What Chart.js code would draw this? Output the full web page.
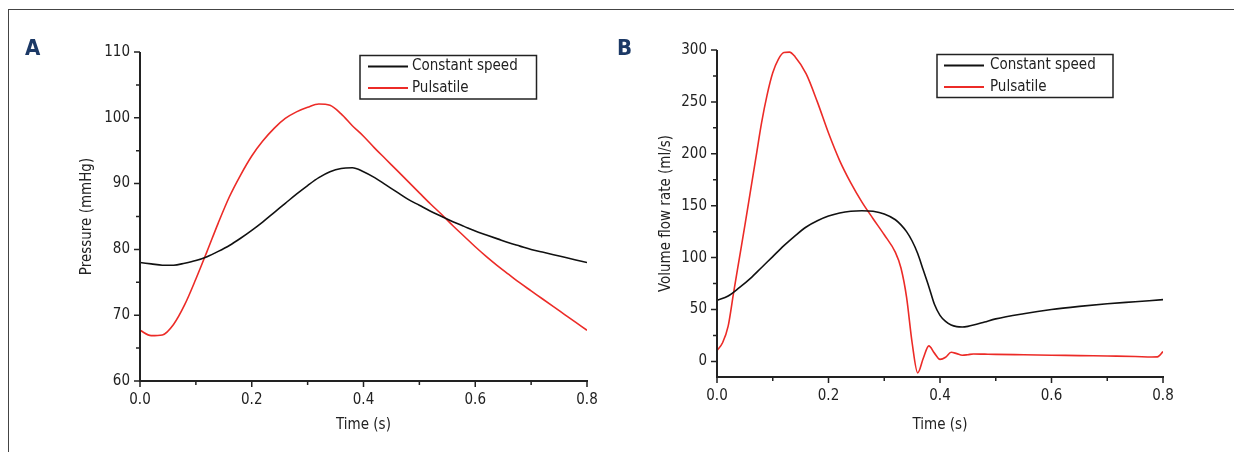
<!DOCTYPE html>
<html>
<head>
<meta charset="utf-8">
<script src="https://cdn.jsdelivr.net/npm/chart.js@4.4.1/dist/chart.umd.min.js"></script>
<style>
  html, body { margin: 0; padding: 0; background: #fff; }
  #wrap { position: relative; width: 1234px; height: 452px; overflow: hidden; background: #fff; }
  #frame { position: absolute; left: 8px; top: 9px; width: 1240px; height: 460px; border-left: 1px solid #444; border-top: 1px solid #444; }
  canvas { position: absolute; top: 0; }
  .panel { position: absolute; font-family: 'DejaVu Sans Condensed', 'DejaVu Sans', sans-serif; font-weight: bold; font-size: 22px; color: #1c3966; }
</style>
</head>
<body>
<div id="wrap">
  <div id="frame"></div>
  <canvas id="chartA" width="620" height="452" style="left:0px"></canvas>
  <canvas id="chartB" width="614" height="452" style="left:620px"></canvas>
  <div class="panel" style="left:25px; top:35px;">A</div>
  <div class="panel" style="left:617px; top:35px;">B</div>
</div>
<script>
// ---------- data ----------
const seriesNames = ['Constant speed', 'Pulsatile'];

const timeA = [0,0.02,0.04,0.06,0.08,0.10,0.12,0.14,0.16,0.18,0.20,0.22,0.24,0.26,0.28,0.30,0.32,0.34,0.36,0.38,0.40,0.42,0.44,0.46,0.48,0.50,0.52,0.54,0.56,0.58,0.60,0.62,0.64,0.66,0.68,0.70,0.72,0.74,0.76,0.78,0.80];
const constantA = [78.0,77.8,77.6,77.6,77.9,78.3,78.9,79.7,80.6,81.7,82.9,84.2,85.6,87.0,88.4,89.7,90.9,91.8,92.3,92.4,91.8,90.9,89.8,88.7,87.6,86.7,85.8,85.0,84.2,83.5,82.8,82.2,81.6,81.0,80.5,80.0,79.6,79.2,78.8,78.4,78.0];
const pulsatileA = [67.7,66.9,67.0,68.6,71.6,75.5,79.7,84.0,88.0,91.3,94.2,96.5,98.4,99.9,100.9,101.6,102.1,101.9,100.6,98.8,97.2,95.4,93.7,92.0,90.3,88.6,86.9,85.3,83.6,82.0,80.4,78.9,77.5,76.2,74.9,73.7,72.5,71.3,70.1,68.9,67.7];

const timeConstB = [0,0.02,0.04,0.06,0.08,0.10,0.12,0.14,0.16,0.18,0.20,0.22,0.24,0.26,0.28,0.30,0.32,0.33,0.34,0.35,0.36,0.37,0.38,0.39,0.40,0.41,0.42,0.43,0.44,0.45,0.46,0.48,0.50,0.55,0.60,0.65,0.70,0.75,0.80];
const constantB = [58.8,63,71,80,90.5,101,111.5,121,129.5,135.5,140,143,144.7,145.2,144.6,142,136.5,131.5,125,116,104,88,72,55,44.4,38.5,35,33.5,33.2,33.8,35,38,41,46,50,53,55.5,57.5,59.5];

const timePulsB = [0,0.01,0.02,0.03,0.04,0.05,0.06,0.07,0.08,0.09,0.10,0.11,0.12,0.13,0.14,0.16,0.18,0.20,0.22,0.24,0.26,0.28,0.30,0.32,0.33,0.34,0.35,0.36,0.37,0.38,0.39,0.40,0.41,0.42,0.43,0.44,0.45,0.46,0.48,0.50,0.55,0.60,0.65,0.70,0.75,0.78,0.79,0.80];
const pulsatileB = [10.6,18,34,67,99,131,164,197,230,257,278,291,297.5,298,293.5,277,250,220,193.5,172,153.5,137.5,122,105,90,62,18,-11,3,15,8,2,4,8.8,7.5,6,6.5,7.2,7,6.8,6.4,6,5.6,5.2,4.8,4.3,4.4,9.5];

const xTicks = [0,0.2,0.4,0.6,0.8];
const yTicksA = [60,70,80,90,100,110];
const yTicksB = [0,50,100,150,200,250,300];

// ---------- helpers ----------
const FONT = "'DejaVu Sans Condensed', 'Liberation Sans Narrow', sans-serif";
const FS = 15;
const TEXT = '#222';
const RED = '#ec2b27';
const BLACK = '#111';

function pairs(xs, ys) { return xs.map((x, i) => ({ x: x, y: ys[i] })); }
function mids(arr) { const out = []; for (let i = 0; i < arr.length - 1; i++) out.push((arr[i] + arr[i + 1]) / 2); return out; }

const axesPlugin = {
  id: 'axesTicks',
  afterDraw(chart, args, o) {
    const { ctx, chartArea: { left, right, top, bottom }, scales: { x, y } } = chart;
    ctx.save();
    ctx.strokeStyle = TEXT;
    ctx.lineWidth = 2;
    ctx.beginPath();
    ctx.moveTo(left, top); ctx.lineTo(left, bottom); ctx.lineTo(right + 1, bottom);
    ctx.stroke();
    ctx.lineWidth = 1.5;
    ctx.beginPath();
    o.xMajor.forEach(v => { const p = x.getPixelForValue(v); ctx.moveTo(p, bottom); ctx.lineTo(p, bottom + 6); });
    mids(o.xMajor).forEach(v => { const p = x.getPixelForValue(v); ctx.moveTo(p, bottom); ctx.lineTo(p, bottom + 4); });
    o.yMajor.forEach(v => { const p = y.getPixelForValue(v); ctx.moveTo(left, p); ctx.lineTo(left - 6, p); });
    mids(o.yMajor).forEach(v => { const p = y.getPixelForValue(v); ctx.moveTo(left, p); ctx.lineTo(left - 4, p); });
    ctx.stroke();
    ctx.restore();
  }
};

const legendPlugin = {
  id: 'boxLegend',
  afterDraw(chart, args, o) {
    const ctx = chart.ctx;
    ctx.save();
    ctx.strokeStyle = TEXT;
    ctx.lineWidth = 1.5;
    ctx.fillStyle = '#fff';
    ctx.fillRect(o.x, o.y, o.w, o.h);
    ctx.strokeRect(o.x, o.y, o.w, o.h);
    ctx.font = FS + 'px ' + FONT;
    ctx.textBaseline = 'middle';
    ctx.textAlign = 'left';
    chart.data.datasets.forEach((ds, i) => {
      const yy = o.rows[i];
      ctx.strokeStyle = ds.borderColor;
      ctx.lineWidth = 2;
      ctx.beginPath();
      ctx.moveTo(o.lx1, yy); ctx.lineTo(o.lx2, yy);
      ctx.stroke();
      ctx.fillStyle = TEXT;
      ctx.fillText(ds.label, o.tx, yy);
    });
    ctx.restore();
  }
};

function makeChart(id, cfg) {
  return new Chart(document.getElementById(id), {
    type: 'line',
    data: {
      datasets: [
        { label: seriesNames[0], data: cfg.s1, borderColor: BLACK, borderWidth: 1.6, pointRadius: 0, cubicInterpolationMode: 'monotone', fill: false },
        { label: seriesNames[1], data: cfg.s2, borderColor: RED, borderWidth: 1.6, pointRadius: 0, cubicInterpolationMode: 'monotone', fill: false }
      ]
    },
    options: {
      responsive: false,
      animation: false,
      devicePixelRatio: 1,
      layout: { padding: cfg.padding },
      plugins: {
        legend: { display: false },
        tooltip: { enabled: false },
        axesTicks: { xMajor: xTicks, yMajor: cfg.yTicks },
        boxLegend: cfg.legend
      },
      scales: {
        x: {
          type: 'linear', min: 0, max: 0.8,
          grid: { display: false, drawTicks: false },
          border: { display: false },
          afterBuildTicks: s => { s.ticks = xTicks.map(v => ({ value: v })); },
          afterFit: s => { s.height = 60; s.paddingLeft = 0; s.paddingRight = 0; },
          ticks: { autoSkip: false, maxRotation: 0, padding: 10.5, color: TEXT, font: { family: FONT, size: FS }, callback: v => Number(v).toFixed(1) },
          title: { display: true, text: 'Time (s)', color: TEXT, font: { family: FONT, size: FS }, padding: { top: 0, bottom: cfg.xTitlePad } }
        },
        y: {
          type: 'linear', min: cfg.yMin, max: cfg.yMax,
          grid: { display: false, drawTicks: false },
          border: { display: false },
          afterBuildTicks: s => { s.ticks = cfg.yTicks.map(v => ({ value: v })); },
          afterFit: s => { s.width = cfg.yWidth; s.paddingTop = 0; s.paddingBottom = 0; },
          ticks: { padding: 10, color: TEXT, font: { family: FONT, size: FS }, callback: v => String(v) },
          title: { display: true, text: cfg.yTitle, color: TEXT, font: { family: FONT, size: FS }, padding: { top: cfg.yTitlePad, bottom: 0 } }
        }
      }
    },
    plugins: [axesPlugin, legendPlugin]
  });
}

Chart.defaults.font.family = FONT;

makeChart('chartA', {
  s1: pairs(timeA, constantA),
  s2: pairs(timeA, pulsatileA),
  yMin: 60, yMax: 110, yTicks: yTicksA,
  yTitle: 'Pressure (mmHg)',
  yWidth: 140, yTitlePad: 78,
  xTitlePad: 6.5,
  padding: { left: 0, right: 33, top: 52, bottom: 11 },
  legend: { x: 360, y: 55.5, w: 176.5, h: 43.5, lx1: 368, lx2: 408, tx: 412, rows: [66.5, 88] }
});

makeChart('chartB', {
  s1: pairs(timeConstB, constantB),
  s2: pairs(timePulsB, pulsatileB),
  yMin: -15, yMax: 300, yTicks: yTicksB,
  yTitle: 'Volume flow rate (ml/s)',
  yWidth: 97, yTitlePad: 37,
  xTitlePad: 2.5,
  padding: { left: 0, right: 71, top: 50, bottom: 15 },
  legend: { x: 317, y: 54.5, w: 176, h: 43, lx1: 324, lx2: 364, tx: 370, rows: [65.5, 87] }
});
</script>
</body>
</html>
